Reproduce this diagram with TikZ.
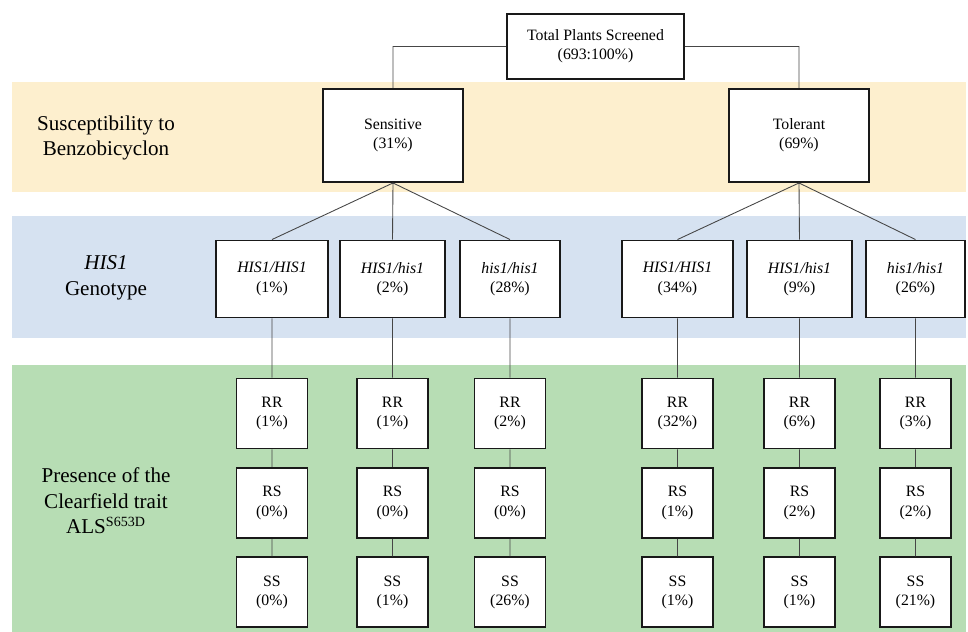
\documentclass[tikz,border=0pt]{standalone}
\usepackage{fontspec}
\setmainfont{Liberation Serif}
\usetikzlibrary{positioning}

\definecolor{bandyellow}{RGB}{253,239,206}
\definecolor{bandblue}{RGB}{214,226,241}
\definecolor{bandgreen}{RGB}{183,221,180}
\definecolor{linegray}{RGB}{70,70,70}

\tikzset{
    box/.style={draw=black!90, line width=1.1pt, fill=white, align=center,
        inner sep=0pt, font=\fontsize{9}{11}\selectfont},
    totbox/.style={box, minimum width=3.54cm, minimum height=1.3cm},
    phenobox/.style={box, minimum width=2.8cm, minimum height=1.86cm},
    genobox/.style={box, inner xsep=0.42cm, minimum height=1.54cm},
    allelebox/.style={box, minimum width=1.42cm, minimum height=1.4cm},
    rowlabel/.style={align=center, font=\fontsize{12}{14.6}\selectfont},
    link/.style={draw=linegray, line width=0.5pt}
}

\begin{document}
\begin{tikzpicture}[x=0.02cm, y=-0.02cm, node distance=0.35cm]
    \useasboundingbox (0,0) rectangle (968,632);
    % bands
    \fill [bandyellow] (12,82) rectangle (966,192);
    \fill [bandblue] (12,216) rectangle (966,338);
    \fill [bandgreen] (12,365) rectangle (966,632);

    \node (L1) [rowlabel] at (106,138) {Susceptibility to\\Benzobicyclon};
    \node (L2) [rowlabel] at (106,278) {\textit{HIS1}\\Genotype};
    \node (L3) [rowlabel] at (106,501) {Presence of the\\Clearfield trait\\ALS\textsuperscript{S653D}};

    \node (Tot) [totbox] at (595.5,46.5) {Total Plants Screened\\(693:100\%)};
    \node (Sen) [phenobox] at (393,135.5) {Sensitive\\(31\%)};
    \node (Tol) [phenobox] at (799,135.5) {Tolerant\\(69\%)};

    \node (G1) [genobox] at (272,279) {\textit{HIS1/HIS1}\\(1\%)};
    \node (G2) [genobox] at (392.5,279) {\textit{HIS1/his1}\\(2\%)};
    \node (G3) [genobox] at (510,279) {\textit{his1/his1}\\(28\%)};
    \node (G4) [genobox] at (677.5,279) {\textit{HIS1/HIS1}\\(34\%)};
    \node (G5) [genobox] at (799.5,279) {\textit{HIS1/his1}\\(9\%)};
    \node (G6) [genobox] at (915.5,279) {\textit{his1/his1}\\(26\%)};

    \node (RR1) [allelebox] at (272,413.5) {RR\\(1\%)};
    \node (RS1) [allelebox, below=of RR1] {RS\\(0\%)};
    \node (SS1) [allelebox, below=of RS1] {SS\\(0\%)};
    \node (RR2) [allelebox] at (392.5,413.5) {RR\\(1\%)};
    \node (RS2) [allelebox, below=of RR2] {RS\\(0\%)};
    \node (SS2) [allelebox, below=of RS2] {SS\\(1\%)};
    \node (RR3) [allelebox] at (510,413.5) {RR\\(2\%)};
    \node (RS3) [allelebox, below=of RR3] {RS\\(0\%)};
    \node (SS3) [allelebox, below=of RS3] {SS\\(26\%)};
    \node (RR4) [allelebox] at (677.5,413.5) {RR\\(32\%)};
    \node (RS4) [allelebox, below=of RR4] {RS\\(1\%)};
    \node (SS4) [allelebox, below=of RS4] {SS\\(1\%)};
    \node (RR5) [allelebox] at (799.5,413.5) {RR\\(6\%)};
    \node (RS5) [allelebox, below=of RR5] {RS\\(2\%)};
    \node (SS5) [allelebox, below=of RS5] {SS\\(1\%)};
    \node (RR6) [allelebox] at (915.5,413.5) {RR\\(3\%)};
    \node (RS6) [allelebox, below=of RR6] {RS\\(2\%)};
    \node (SS6) [allelebox, below=of RS6] {SS\\(21\%)};

    \draw [link]
        (Tot.west) -| (Sen.north)
        (Tot.east) -| (Tol.north)
        (Sen.south) -- (G1.north)
        (Sen.south) -- (G2.north)
        (Sen.south) -- (G3.north)
        (Tol.south) -- (G4.north)
        (Tol.south) -- (G5.north)
        (Tol.south) -- (G6.north)
        (G1) -- (RR1) (RR1) -- (RS1) (RS1) -- (SS1)
        (G2) -- (RR2) (RR2) -- (RS2) (RS2) -- (SS2)
        (G3) -- (RR3) (RR3) -- (RS3) (RS3) -- (SS3)
        (G4) -- (RR4) (RR4) -- (RS4) (RS4) -- (SS4)
        (G5) -- (RR5) (RR5) -- (RS5) (RS5) -- (SS5)
        (G6) -- (RR6) (RR6) -- (RS6) (RS6) -- (SS6);
\end{tikzpicture}
\end{document}
